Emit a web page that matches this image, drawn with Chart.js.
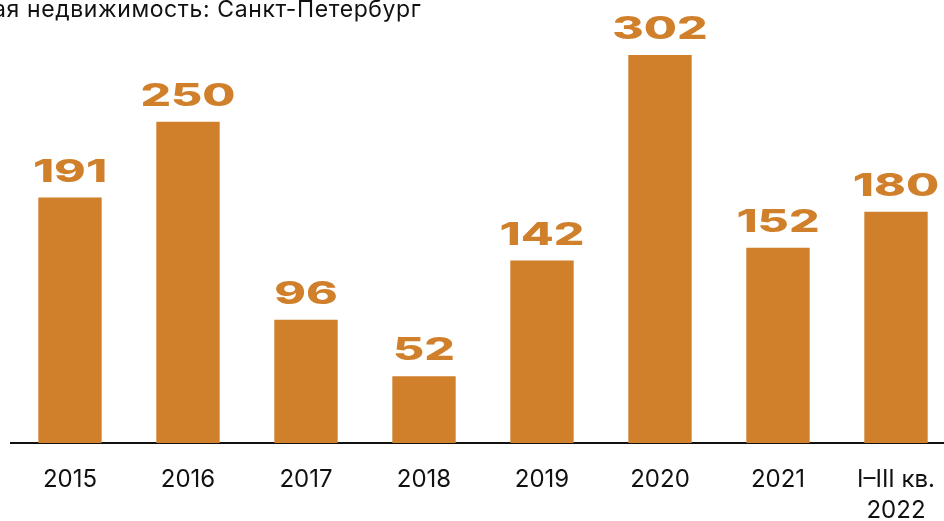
<!DOCTYPE html>
<html>
<head>
<meta charset="utf-8">
<script src="https://cdn.jsdelivr.net/npm/chart.js@4.4.0/dist/chart.umd.min.js"></script>
<style>
  html, body { margin: 0; padding: 0; background: #fff; overflow: hidden; }
  #wrap { width: 944px; height: 521px; overflow: hidden; position: relative; }
  canvas { display: block; }
</style>
</head>
<body>
<div id="wrap"><canvas id="chart" width="956" height="521"></canvas></div>
<script>
const titleText = 'ая недвижимость: Санкт-Петербург';
const years = ['2015', '2016', '2017', '2018', '2019', '2020', '2021', ['I–III кв.', '2022']];
const volumes = [191, 250, 96, 52, 142, 302, 152, 180];

const barColor = '#D07F2A';

// title is cropped on the left in the source picture
const titlePlugin = {
  id: 'croppedTitle',
  afterDraw(chart) {
    const c = chart.ctx;
    c.save();
    c.font = '23px Inter';
    c.letterSpacing = '0.6px';
    c.fillStyle = '#111';
    c.textBaseline = 'alphabetic';
    c.textAlign = 'left';
    c.fillText(titleText, -7, 17);
    c.restore();
  }
};

// wide heavy value labels above the bars
const valuePlugin = {
  id: 'values',
  afterDatasetsDraw(chart) {
    const c = chart.ctx;
    const meta = chart.getDatasetMeta(0);
    c.save();
    c.font = '800 31px Inter';
    c.fillStyle = barColor;
    c.textAlign = 'center';
    c.textBaseline = 'alphabetic';
    meta.data.forEach((bar, i) => {
      c.save();
      c.translate(bar.x, bar.y - 16);
      c.scale(1.55, 1);
      c.fillText(String(volumes[i]), 0, 0);
      c.restore();
    });
    c.restore();
  }
};

new Chart(document.getElementById('chart'), {
  type: 'bar',
  data: {
    labels: years,
    datasets: [{
      data: volumes,
      backgroundColor: barColor,
      borderWidth: 0,
      categoryPercentage: 1,
      barPercentage: 0.537
    }]
  },
  options: {
    responsive: false,
    animation: false,
    layout: { padding: { left: 11, right: 0, top: 10, bottom: 0 } },
    plugins: { legend: { display: false }, tooltip: { enabled: false } },
    scales: {
      x: {
        grid: { display: false, drawTicks: false },
        border: { display: true, color: '#111', width: 2 },
        ticks: {
          color: '#111',
          font: { family: 'Inter', size: 24, lineHeight: 1.3 },
          padding: 21,
          maxRotation: 0,
          autoSkip: false
        },
        afterFit(s) { s.height = 78; }
      },
      y: {
        display: false,
        min: 0,
        max: 337
      }
    }
  },
  plugins: [titlePlugin, valuePlugin]
});
</script>
</body>
</html>
